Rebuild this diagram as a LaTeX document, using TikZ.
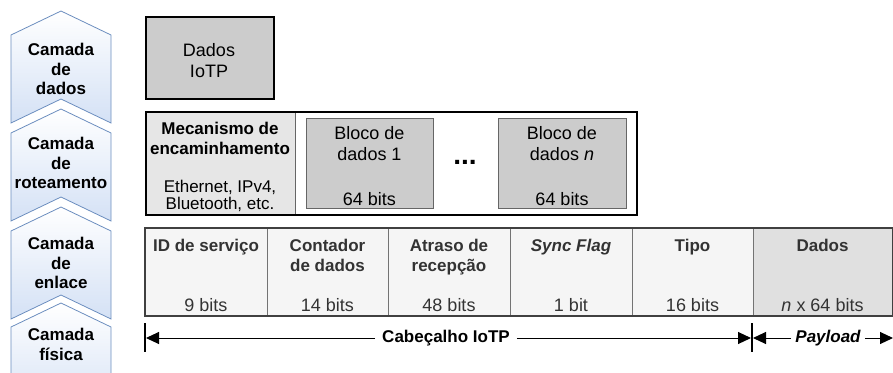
\documentclass[tikz,border=0pt]{standalone}
\usepackage{fontspec}
\setmainfont{Liberation Sans}
\usetikzlibrary{arrows.meta}

\definecolor{chevfill}{HTML}{D4E1F5}
\definecolor{chevline}{HTML}{6C8EBF}
\definecolor{blockgray}{HTML}{CCCCCC}
\definecolor{mechgray}{HTML}{E6E6E6}
\definecolor{fieldgray}{HTML}{F5F5F5}
\definecolor{datagray}{HTML}{E0E0E0}
\definecolor{fieldtext}{HTML}{333333}

\newcommand{\iotpsize}{\fontsize{18}{21}\selectfont}
\newcommand{\iotpbold}{\fontsize{17}{19.5}\selectfont\bfseries}

\tikzset{
    layer/.style={draw=chevline, line width=0.8pt, top color=white, bottom color=chevfill},
    layertext/.style={anchor=north, align=center, inner sep=0pt, font=\iotpbold},
    box/.style={anchor=north west, inner sep=0pt},
    block/.style={box, draw=black!60, fill=blockgray, line width=1pt},
    field/.style={box, draw=black!55, line width=0.8pt, minimum height=87},
    txt/.style={anchor=north, align=center, inner sep=0pt},
    bits/.style={anchor=base, inner sep=0pt},
    bar/.style={line width=2pt},
    dimarrow/.style={-{Triangle[length=13pt,width=12pt]}, line width=1pt},
}

\begin{document}
\begin{tikzpicture}[x=1pt, y=-1pt, font=\iotpsize]
    \clip (0,0) rectangle (893,372);

    % Layers
    \foreach \y/\name/\label/\ty in {11/dados/{Camada\\de\\dados}/43,
                                     109/rot/{Camada\\de\\roteamento}/137,
                                     207/enl/{Camada\\de\\enlace}/237,
                                     303/fis/{Camada\\física}/328} {
        \path[layer] (61,\y) -- ++(50,24) -- ++(0,88) -- ++(-50,-24)
                     -- ++(-50,24) -- ++(0,-88) -- cycle;
        \node[layertext] (layer-\name) at (61,\ty) {\label};
    }

    % Data layer
    \node[box, draw, line width=2pt, fill=blockgray, minimum width=128, minimum height=82] (iotp) at (145,16) {};
    \node[txt] (iotp-txt) at (209,43) {Dados\\IoTP};

    % Routing layer
    \node[box, fill=mechgray, draw=black!60, minimum width=150, minimum height=103] (mech) at (145,111) {};
    \node[box, draw, line width=2pt, minimum width=491, minimum height=103] (route) at (145,111) {};
    \node[txt, font=\iotpbold] (mech-title) at (220,122) {Mecanismo de\\encaminhamento};
    \node[txt, font=\fontsize{17}{17}\selectfont] (mech-ex) at (220,180) {Ethernet, IPv4,\\Bluetooth, etc.};

    \node[block, minimum width=127, minimum height=90] (blk1) at (306,118) {};
    \node[block, minimum width=128, minimum height=90] (blkn) at (498,118) {};
    \node[txt] (blk1-txt) at (369.5,126) {Bloco de\\dados 1};
    \node[txt] (blkn-txt) at (562,126) {Bloco de\\dados \textit{n}};
    \node[bits] (blk1-bits) at (369.5,205) {64 bits};
    \node[bits] (blkn-bits) at (562,205) {64 bits};
    \node[bits, font=\fontsize{28}{28}\selectfont\bfseries] (dots) at (465,164) {...};

    % Link layer
    \foreach \n/\xa/\xb/\col/\title/\size in {id/145/267/fieldgray/{ID de serviço}/{9 bits},
                                              cnt/267/388/fieldgray/{Contador\\de dados}/{14 bits},
                                              dly/388/510/fieldgray/{Atraso de\\recepção}/{48 bits},
                                              sync/510/632/fieldgray/{\itshape Sync Flag}/{1 bit},
                                              type/632/753/fieldgray/{Tipo}/{16 bits},
                                              data/753/892/datagray/{Dados}/{\textit{n} x 64 bits}} {
        \node[field, fill=\col, minimum width=\xb-\xa] (\n) at (\xa,228) {};
        \node[txt, font=\iotpbold, text=fieldtext] (\n-title) at ({(\xa+\xb)/2},239) {\title};
        \node[bits, text=fieldtext] (\n-bits) at ({(\xa+\xb)/2},311) {\size};
    }
    \draw[line width=1.6pt, black!75] (id.north west) rectangle (data.south east);

    % Header and payload
    \coordinate (barL-top) at (145,323);
    \coordinate (barL-bot) at (145,352);
    \coordinate (barM-top) at (752,323);
    \coordinate (barM-bot) at (752,352);
    \coordinate (hdrL) at (146,338);
    \coordinate (hdrR) at (751,338);
    \coordinate (payL) at (753,338);
    \coordinate (payR) at (893,338);
    \draw[bar] (barL-top) -- (barL-bot);
    \draw[bar] (barM-top) -- (barM-bot);

    \node[font=\iotpbold, inner sep=7pt] (hdr) at (446,338) {Cabeçalho IoTP};
    \node[font=\iotpbold\itshape, inner sep=4pt] (pay) at (828,338) {Payload};
    \draw[dimarrow] (hdr) -- (hdrL);
    \draw[dimarrow] (hdr) -- (hdrR);
    \draw[dimarrow] (pay) -- (payL);
    \draw[dimarrow] (pay) -- (payR);
\end{tikzpicture}
\end{document}
